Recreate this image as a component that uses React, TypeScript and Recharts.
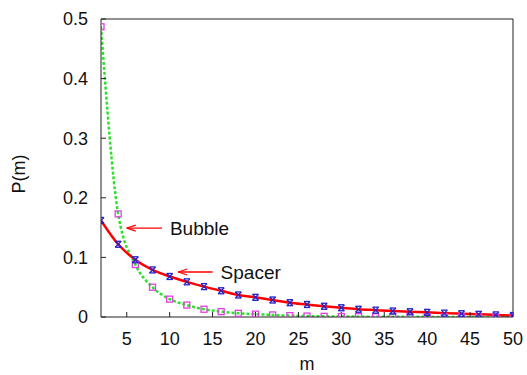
import React from "react";
import { LineChart, Line, XAxis, YAxis, ReferenceLine } from "recharts";

const FONT = '"Liberation Sans", Arial, Helvetica, sans-serif';

// cluster size m (even values only)
const mValues = [
  2, 4, 6, 8, 10, 12, 14, 16, 18, 20, 22, 24, 26, 28, 30, 32, 34, 36, 38, 40,
  42, 44, 46, 48, 50,
];

// P(m)
const spacerValues = [
  0.162, 0.122, 0.096, 0.079, 0.068, 0.059, 0.051, 0.044, 0.037, 0.033,
  0.0285, 0.024, 0.021, 0.018, 0.0155, 0.013, 0.0115, 0.01, 0.0088, 0.0078,
  0.0065, 0.0055, 0.0045, 0.0035, 0.0025,
];
const bubbleValues = [
  0.487, 0.173, 0.088, 0.05, 0.03, 0.02, 0.013, 0.009, 0.0062, 0.0048,
  0.0034, 0.0023, 0.0016, 0.0011, 0.0008, 0.0006, 0.0005, 0.0004, 0.0003,
  0.0002, 0.0002, 0.0001, 0.0001, 0.0001, 0.0001,
];

const xTicks = [5, 10, 15, 20, 25, 30, 35, 40, 45, 50];
const yTicks = [0, 0.1, 0.2, 0.3, 0.4, 0.5];

// arrow annotations: tail -> head, in data units
const annotationLabels = ["Bubble", "Spacer"];
const annotationTails = [
  { x: 9.1, y: 0.149 },
  { x: 15.0, y: 0.0755 },
];
const annotationHeads = [
  { x: 5.0, y: 0.149 },
  { x: 11.0, y: 0.0755 },
];

const chartData = mValues.map((m, i) => ({
  m,
  spacer: spacerValues[i],
  bubble: bubbleValues[i],
}));

const tickStyle = { fontSize: 18, fill: "#111", fontFamily: FONT };

function SpacerDot(props: any) {
  const { cx, cy } = props;
  if (cx == null || cy == null) return null;
  const s = 3;
  return (
    <g stroke="#2323c8" strokeWidth={1.3} fill="none">
      <line x1={cx - s} y1={cy - s} x2={cx + s} y2={cy + s} />
      <line x1={cx - s} y1={cy + s} x2={cx + s} y2={cy - s} />
      <line x1={cx - s} y1={cy - s} x2={cx + s} y2={cy - s} />
      <line x1={cx - s} y1={cy + s} x2={cx + s} y2={cy + s} />
    </g>
  );
}

function BubbleDot(props: any) {
  const { cx, cy } = props;
  if (cx == null || cy == null) return null;
  return (
    <rect
      x={cx - 3}
      y={cy - 3}
      width={6}
      height={6}
      fill="none"
      stroke="#e040e0"
      strokeWidth={1.3}
    />
  );
}

function makeArrow(label: string) {
  return (props: any) => {
    const { x1, y1, x2, y2 } = props;
    const dx = x2 - x1;
    const dy = y2 - y1;
    const len = Math.sqrt(dx * dx + dy * dy) || 1;
    const ux = dx / len;
    const uy = dy / len;
    const hl = 9;
    const hw = 3;
    const bx = x2 - ux * hl;
    const by = y2 - uy * hl;
    return (
      <g>
        <line x1={x1} y1={y1} x2={x2} y2={y2} stroke="#ff0000" strokeWidth={1.3} />
        <line x1={x2} y1={y2} x2={bx - uy * hw} y2={by + ux * hw} stroke="#ff0000" strokeWidth={1.3} />
        <line x1={x2} y1={y2} x2={bx + uy * hw} y2={by - ux * hw} stroke="#ff0000" strokeWidth={1.3} />
        <text
          x={x1 + 8}
          y={y1}
          dy="0.36em"
          fontSize={19}
          fill="#111"
          fontFamily={FONT}
        >
          {label}
        </text>
      </g>
    );
  };
}

export default function App() {
  return (
    <div style={{ position: "absolute", left: 0, top: 0, background: "#fff" }}>
      <LineChart
        width={527}
        height={375}
        data={chartData}
        margin={{ top: 18, right: 13, bottom: 0, left: 0 }}
        style={{ fontFamily: FONT }}
      >
        <XAxis
          dataKey="m"
          type="number"
          domain={[2, 50]}
          ticks={xTicks}
          allowDataOverflow
          height={58}
          stroke="#222"
          tickSize={-5}
          tickMargin={20}
          tick={tickStyle}
          label={{
            value: "m",
            position: "insideBottom",
            offset: 5,
            fontSize: 18,
            fill: "#111",
            fontFamily: FONT,
          }}
        />
        <XAxis
          xAxisId="top"
          orientation="top"
          dataKey="m"
          type="number"
          domain={[2, 50]}
          ticks={xTicks}
          allowDataOverflow
          height={1}
          stroke="#222"
          tickSize={-5}
          tick={false}
        />
        <YAxis
          type="number"
          domain={[0, 0.5]}
          ticks={yTicks}
          allowDataOverflow
          width={101}
          stroke="#222"
          tickSize={-5}
          tickMargin={18}
          tick={tickStyle}
          tickFormatter={(v: number) => (v === 0 ? "0" : v.toFixed(1))}
          label={{
            content: (p: any) => {
              const vb = p.viewBox || { x: 0, y: 19, height: 298 };
              const cx = vb.x + 19;
              const cy = vb.y + vb.height / 2 + 6;
              return (
                <text
                  x={cx}
                  y={cy}
                  dy="0.36em"
                  transform={`rotate(-90 ${cx} ${cy})`}
                  textAnchor="middle"
                  fontSize={18}
                  fill="#111"
                  fontFamily={FONT}
                >
                  P(m)
                </text>
              );
            },
          }}
        />
        <YAxis
          yAxisId="right"
          orientation="right"
          type="number"
          domain={[0, 0.5]}
          ticks={yTicks}
          allowDataOverflow
          width={1}
          stroke="#222"
          tickSize={-5}
          tick={false}
        />
        <Line
          dataKey="bubble"
          type="monotone"
          stroke="#2ee02e"
          strokeWidth={2.5}
          strokeDasharray="3 2"
          dot={<BubbleDot />}
          activeDot={false}
          isAnimationActive={false}
        />
        <Line
          dataKey="spacer"
          type="monotone"
          stroke="#ff0000"
          strokeWidth={2.5}
          dot={<SpacerDot />}
          activeDot={false}
          isAnimationActive={false}
        />
        {annotationLabels.map((label, i) => (
          <ReferenceLine
            key={label}
            segment={[annotationTails[i], annotationHeads[i]]}
            ifOverflow="visible"
            shape={makeArrow(label)}
          />
        ))}
      </LineChart>
    </div>
  );
}
